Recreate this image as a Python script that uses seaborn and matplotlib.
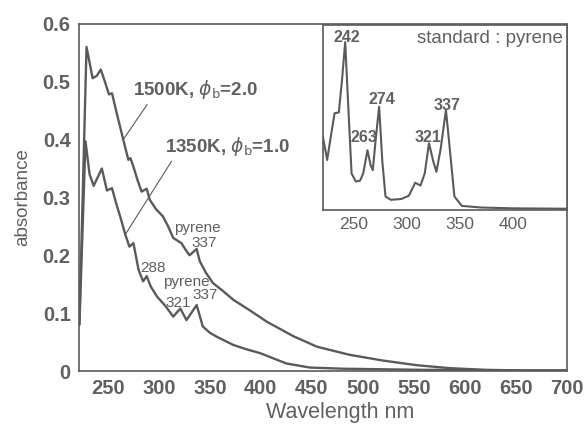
import numpy as np
import pandas as pd
import seaborn as sns
import matplotlib.pyplot as plt

# main spectra
wl_1500 = [222, 229, 235, 239, 243, 247, 251, 254, 258, 265, 270, 272, 275, 279, 283, 288, 291, 297, 304,
           309, 314, 322, 326, 330, 337, 340, 346, 353, 363, 373, 389, 406, 432, 455, 487, 520, 553, 585,
           620, 660, 700]
abs_1500 = [0.08, 0.56, 0.506, 0.51, 0.521, 0.50, 0.478, 0.48, 0.45, 0.40, 0.365, 0.368, 0.353, 0.33, 0.31,
            0.315, 0.296, 0.28, 0.267, 0.25, 0.23, 0.221, 0.21, 0.20, 0.211, 0.19, 0.17, 0.152, 0.138, 0.123,
            0.105, 0.085, 0.06, 0.042, 0.028, 0.018, 0.01, 0.005, 0.002, 0.001, 0.001]

wl_1350 = [222, 228, 232, 236, 240, 244, 249, 254, 258, 262, 267, 271, 275, 280, 284.5, 288, 292, 298, 307,
           314, 321, 327, 337, 343, 350, 357, 365, 373, 385, 399, 412, 425, 448, 480, 520, 560, 600, 650, 700]
abs_1350 = [0.08, 0.397, 0.34, 0.32, 0.335, 0.35, 0.312, 0.316, 0.29, 0.267, 0.236, 0.215, 0.221, 0.175,
            0.155, 0.164, 0.146, 0.129, 0.111, 0.094, 0.108, 0.088, 0.114, 0.077, 0.066, 0.059, 0.052, 0.045,
            0.038, 0.031, 0.022, 0.013, 0.006, 0.004, 0.003, 0.002, 0.002, 0.001, 0.001]

# inset: pyrene standard
wl_pyr = [221, 225, 229, 232, 236, 239, 242, 245, 248, 252, 256, 259, 263, 266, 268, 271, 274, 277, 280,
          285, 295, 302, 308, 313, 317, 321, 325, 328, 332, 337, 341, 345, 352, 370, 400, 451]
abs_pyr = [1.8, 1.23, 1.9, 2.38, 2.4, 3.2, 4.13, 2.5, 0.9, 0.7, 0.72, 0.9, 1.47, 1.1, 0.98, 1.8, 2.54, 1.2,
           0.33, 0.25, 0.27, 0.35, 0.67, 0.6, 0.9, 1.64, 1.2, 0.94, 1.5, 2.46, 1.4, 0.33, 0.1, 0.06, 0.04, 0.03]

main_ticks_x = [250, 300, 350, 400, 450, 500, 550, 600, 650, 700]
main_ticks_y = [0, 0.1, 0.2, 0.3, 0.4, 0.5, 0.6]
inset_ticks_x = [250, 300, 350, 400]
inset_ticks_y = [1, 2, 3, 4]
inset_peaks = [("242", 347, 38), ("263", 364, 138), ("274", 382, 100), ("321", 428, 138), ("337", 447, 105)]

sns.set_style("white")
plt.rcParams['font.family'] = ['Liberation Sans', 'DejaVu Sans']
plt.rcParams['mathtext.fontset'] = 'dejavusans'
gray = '#5a5a5a'
txt = '#606060'

fig = plt.figure(figsize=(5.85, 4.25), dpi=100)
ax = fig.add_axes([0.135, 0.127, 0.834, 0.817])

sns.lineplot(x=wl_1500, y=abs_1500, ax=ax, color=gray, lw=1.7, sort=False)
sns.lineplot(x=wl_1350, y=abs_1350, ax=ax, color=gray, lw=1.7, sort=False)

ax.set_xlim(221.6, 700)
ax.set_ylim(0, 0.6)
ax.set_xticks(main_ticks_x)
ax.set_yticks(main_ticks_y)
ax.set_yticklabels(['0', '0.1', '0.2', '0.3', '0.4', '0.5', '0.6'])
ax.tick_params(direction='in', length=4, width=1, colors=gray, labelcolor=txt, labelsize=14.5, pad=6)
for lab in ax.get_xticklabels() + ax.get_yticklabels():
    lab.set_fontweight('bold')
for s in ax.spines.values():
    s.set_color(gray)
    s.set_linewidth(1.2)
ax.set_xlabel('Wavelength nm', fontsize=15.5, color=txt, labelpad=3)
ax.xaxis.set_label_coords(0.535, -0.09)
ax.set_ylabel('absorbance', fontsize=13.5, color=txt, labelpad=8)

# labels with leader lines
ax.annotate(r'1500K, $\phi_{\rm b}$=2.0', xy=(265, 0.40), xytext=(275, 0.486), fontsize=13.5,
            fontweight='bold', color=txt, va='center', ha='left',
            arrowprops=dict(arrowstyle='-', color=gray, lw=0.8, shrinkA=0, shrinkB=0,
                            relpos=(0.14, 0.1)))
ax.annotate(r'1350K, $\phi_{\rm b}$=1.0', xy=(266.7, 0.235), xytext=(306, 0.388), fontsize=13.5,
            fontweight='bold', color=txt, va='center', ha='left',
            arrowprops=dict(arrowstyle='-', color=gray, lw=0.8, shrinkA=0, shrinkB=0,
                            relpos=(0.08, 0.1)))

ax.text(338, 0.248, 'pyrene', fontsize=11, color=txt, ha='center', va='center')
ax.text(344, 0.221, '337', fontsize=11, color=txt, ha='center', va='center')
ax.text(294, 0.178, '288', fontsize=11, color=txt, ha='center', va='center')
ax.text(327, 0.153, 'pyrene', fontsize=11, color=txt, ha='center', va='center')
ax.text(319, 0.117, '321', fontsize=11, color=txt, ha='center', va='center')
ax.text(345, 0.131, '337', fontsize=11, color=txt, ha='center', va='center')

# inset
ins = fig.add_axes([0.552, 0.506, 0.417, 0.435])
sns.lineplot(x=wl_pyr, y=abs_pyr, ax=ins, color=gray, lw=1.5, sort=False)
ins.set_xlim(221, 451)
ins.set_ylim(0, 4.55)
ins.set_xticks(inset_ticks_x)
ins.set_yticks(inset_ticks_y)
ins.set_yticklabels([])
ins.tick_params(direction='in', length=4, width=1, colors=gray, labelcolor=txt, labelsize=12.5, pad=5)
for s in ins.spines.values():
    s.set_color(gray)
    s.set_linewidth(1.2)
for lab, x, y in inset_peaks:
    ins.annotate(lab, xy=(x / 585, 1 - y / 425), xycoords='figure fraction', fontsize=11.5,
                 fontweight='bold', color=txt, ha='center', va='center')
ins.text(0.985, 0.93, 'standard : pyrene', transform=ins.transAxes, fontsize=13.5, color=txt,
         ha='right', va='center')

fig.savefig('out.png', dpi=100)
